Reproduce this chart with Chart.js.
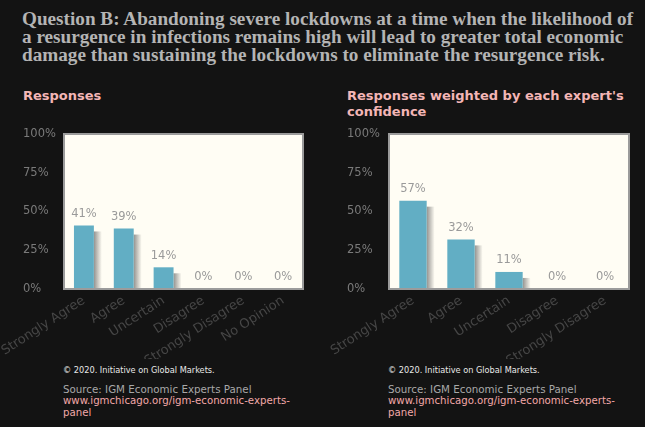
<!DOCTYPE html>
<html lang="en">
<head>
  <meta charset="UTF-8" />
  <title>Question B</title>
  <script src="https://cdn.jsdelivr.net/npm/chart.js"></script>
  <style>
    body{
      margin: 0;
      width: 645px;
      height: 427px;
      background: #131313;
      position: relative;
      overflow: hidden;
      font-family: "DejaVu Sans", sans-serif;
    }
    h1{
      position: absolute;
      left: 22px;
      top: 10px;
      margin: 0;
      width: 640px;
      white-space: nowrap;
      font-family: "Liberation Serif", serif;
      font-size: 19.2px;
      line-height: 18px;
      font-weight: bold;
      color: #b4b4b4;
    }
    .sub{
      position: absolute;
      top: 88px;
      margin: 0;
      font-size: 13px;
      line-height: 16px;
      font-weight: bold;
      color: #f4b6b6;
    }
    .chart{ position: absolute; }
    .foot{
      position: absolute;
      top: 365px;
      width: 250px;
    }
    .foot .copy{ font-size: 8.2px; color: #e8e8e8; margin-bottom: 8px; }
    .foot .src{ font-size: 10.3px; line-height: 12px; color: #a8a8a8; }
    .foot .link{ font-size: 10.2px; line-height: 12px; color: #f2a8a8; }
  </style>
</head>
<body>
  <h1>Question B: Abandoning severe lockdowns at a time when the likelihood of<br>a resurgence in infections remains high will lead to greater total economic<br>damage than sustaining the lockdowns to eliminate the resurgence risk.</h1>
  <div class="sub" style="left:23px">Responses</div>
  <div class="sub" style="left:347px;width:290px">Responses weighted by each expert's<br>confidence</div>

  <div class="chart" style="left:0px;top:124px;width:313px;height:235px"><canvas id="c1"></canvas></div>
  <div class="chart" style="left:325px;top:124px;width:314px;height:235px"><canvas id="c2"></canvas></div>

  <div class="foot" style="left:63px">
    <div class="copy">© 2020. Initiative on Global Markets.</div>
    <div class="src">Source: IGM Economic Experts Panel</div>
    <div class="link">www.igmchicago.org/igm-economic-experts-<br>panel</div>
  </div>
  <div class="foot" style="left:388px">
    <div class="copy">© 2020. Initiative on Global Markets.</div>
    <div class="src">Source: IGM Economic Experts Panel</div>
    <div class="link">www.igmchicago.org/igm-economic-experts-<br>panel</div>
  </div>

  <script>
    const categories = ['Strongly Agree', 'Agree', 'Uncertain', 'Disagree', 'Strongly Disagree', 'No Opinion'];
    const responses = [41, 39, 14, 0, 0, 0];
    const weightedCategories = ['Strongly Agree', 'Agree', 'Uncertain', 'Disagree', 'Strongly Disagree'];
    const weighted = [57, 32, 11, 0, 0];
    const yTicks = [0, 25, 50, 75, 100];

    // fond ivoire + cadre gris, ombre des barres, étiquettes
    const panel = {
      id: 'panel',
      beforeDatasetsDraw(chart) {
        const { ctx, chartArea: a } = chart;
        ctx.save();
        ctx.fillStyle = '#fffdf4';
        ctx.fillRect(a.left, a.top, a.right - a.left, a.bottom - a.top);
        chart.getDatasetMeta(0).data.forEach(bar => {
          if (bar.base - bar.y < 1) return;
          const x0 = bar.x + bar.width / 2;
          const g = ctx.createLinearGradient(x0, 0, x0 + 8, 0);
          g.addColorStop(0, 'rgba(90,90,90,0.65)');
          g.addColorStop(1, 'rgba(90,90,90,0)');
          ctx.fillStyle = g;
          ctx.fillRect(x0, bar.y + 6, 8, bar.base - bar.y - 6);
        });
        ctx.restore();
      },
      afterDatasetsDraw(chart) {
        const { ctx, chartArea: a } = chart;
        const vals = chart.data.datasets[0].data;
        ctx.save();
        ctx.font = '11.5px "DejaVu Sans"';
        ctx.fillStyle = '#9a9a9a';
        ctx.textAlign = 'center';
        ctx.textBaseline = 'bottom';
        chart.getDatasetMeta(0).data.forEach((bar, i) => {
          ctx.fillText(vals[i] + '%', bar.x, bar.y - 6);
        });
        ctx.strokeStyle = '#9b9b9b';
        ctx.lineWidth = 2;
        ctx.strokeRect(a.left, a.top, a.right - a.left, a.bottom - a.top);
        ctx.restore();
      }
    };

    function makeChart(id, labels, values, padLeft, yWidth, barPct) {
      return new Chart(document.getElementById(id), {
        type: 'bar',
        data: {
          labels: labels,
          datasets: [{
            data: values,
            backgroundColor: '#62aec4',
            borderWidth: 0,
            barPercentage: barPct,
            categoryPercentage: 1
          }]
        },
        options: {
          responsive: true,
          maintainAspectRatio: false,
          animation: false,
          layout: { padding: { top: 10, right: 10, left: padLeft, bottom: 0 } },
          plugins: { legend: { display: false }, tooltip: { enabled: false } },
          scales: {
            x: {
              grid: { display: false, drawTicks: false },
              border: { display: false },
              afterFit: s => { s.height = 70; s.paddingLeft = 0; s.paddingRight = 0; },
              ticks: {
                color: '#464646',
                font: { family: 'DejaVu Sans', size: 13 },
                maxRotation: 33,
                minRotation: 33,
                padding: 4
              }
            },
            y: {
              min: 0,
              max: 100,
              afterFit: s => { s.width = yWidth; },
              afterBuildTicks: s => { s.ticks = yTicks.map(v => ({ value: v })); },
              grid: { display: false, drawTicks: false },
              border: { display: false },
              ticks: {
                color: '#7a7a7a',
                font: { family: 'DejaVu Sans', size: 11.5 },
                crossAlign: 'far',
                callback: v => v + '%'
              }
            }
          }
        },
        plugins: [panel]
      });
    }

    makeChart('c1', categories, responses, 23, 41, 0.5);
    makeChart('c2', weightedCategories, weighted, 22, 42, 0.57);
  </script>
</body>
</html>
